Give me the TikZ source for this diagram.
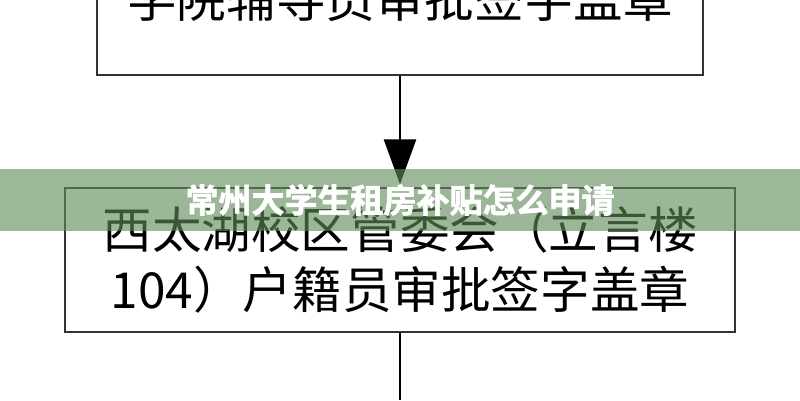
\documentclass[tikz,border=0pt]{standalone}
\usepackage{fontspec}
\newfontfamily\cjk{Noto Sans CJK SC}
\newfontfamily\cjkheavy[FakeBold=2]{Noto Sans CJK SC Bold}
\usetikzlibrary{arrows.meta}
\definecolor{bannergreen}{RGB}{95,140,90}
\begin{document}
\begin{tikzpicture}[x=1pt,y=1pt,
  box/.style={draw=black!80, line width=1.4pt, fill=white, align=center, inner sep=0pt,
    font=\cjk\fontsize{49.6}{60}\selectfont},
  flow/.style={line width=2.8pt, -{Triangle[length=45pt,width=32pt]}}]
\useasboundingbox (0,0) rectangle (800,400);
\clip (0,0) rectangle (800,400);
% steps
\node[box, minimum width=606pt, minimum height=154pt] (daoyuan) at (400,402) {学院辅导员审批签字盖章};
\node[box, minimum width=670pt, minimum height=144pt] (huji) at (400,140) {西太湖校区管委会（立言楼\\104）户籍员审批签字盖章};
\coordinate (next) at (400,0);
\draw[flow, shorten >=3pt] (daoyuan) -- (huji);
\draw[line width=2.8pt] (huji) -- (next);
% banner
\fill[bannergreen, fill opacity=0.62] (0,169) rectangle (800,231);
\node[text=white, font=\cjkheavy\fontsize{33}{33}\selectfont] (title) at (400,200) {常州大学生租房补贴怎么申请};
\end{tikzpicture}
\end{document}
